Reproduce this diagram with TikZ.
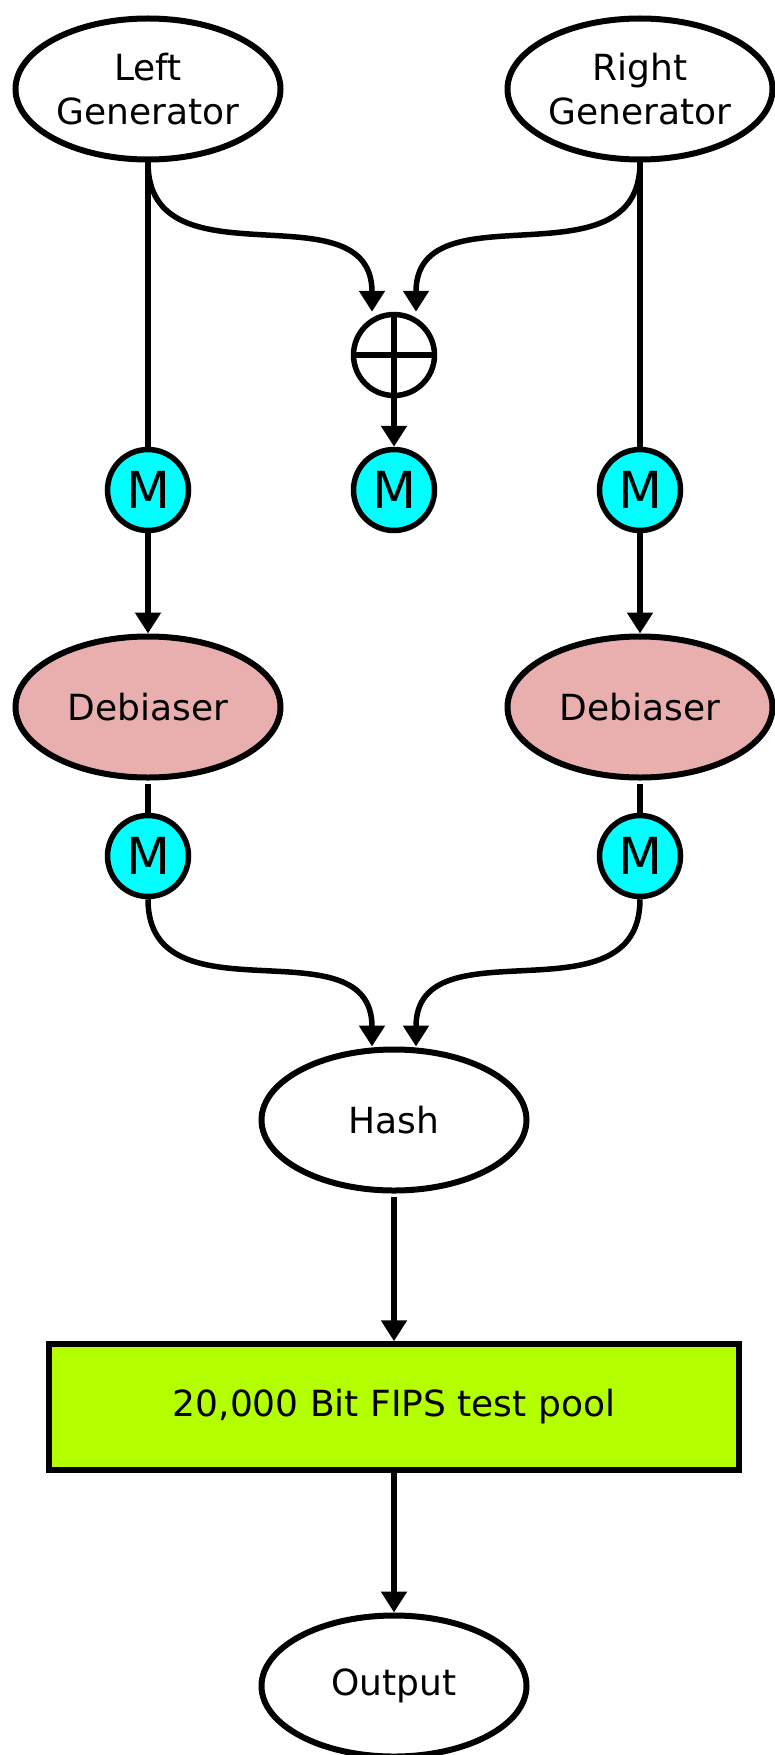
\documentclass[tikz,border=0pt]{standalone}
\usepackage{fontspec}
\setmainfont{DejaVu Sans}
\usepackage{tikz}
\usetikzlibrary{arrows.meta,positioning,shapes.geometric}
\definecolor{mixcyan}{RGB}{0,255,255}
\definecolor{debpink}{RGB}{233,175,175}
\definecolor{poolgreen}{RGB}{179,255,0}

\begin{document}
\begin{tikzpicture}[
    on grid,
    every node/.style={align=center, font=\fontsize{36}{44}\selectfont},
    genbox/.style={ellipse, draw=black, fill=white, minimum width=265pt, minimum height=141pt, line width=6pt, inner sep=0pt},
    debbox/.style={genbox, fill=debpink},
    mixbox/.style={circle, draw=black, fill=mixcyan, minimum size=81pt, line width=5.5pt, inner sep=0pt, font=\fontsize{51}{60}\selectfont},
    xorbox/.style={circle, draw=black, fill=white, minimum size=81pt, line width=5.5pt, inner sep=0pt},
    poolbox/.style={rectangle, draw=black, fill=poolgreen, minimum width=690pt, minimum height=126pt, line width=5.5pt},
    link/.style={line width=5.5pt, draw=black},
    arr/.style={link, -{Triangle[length=21pt,width=25pt]}}
]
\useasboundingbox (0,0) rectangle (775pt,-1755pt);

% Generators and XOR
\node[genbox] (leftgen) at (148pt,-89pt) {Left\\Generator};
\node[genbox, right=492pt of leftgen] (rightgen) {Right\\Generator};
\node[mixbox, below=401pt of leftgen] (leftmix) {M};
\node[mixbox, right=246pt of leftmix] (midmix) {M};
\node[xorbox, above=135pt of midmix] (xor) {};
\node[mixbox, below=401pt of rightgen] (rightmix) {M};

% Debiasers
\node[debbox, below=217pt of leftmix] (leftdeb) {Debiaser};
\node[debbox, below=217pt of rightmix] (rightdeb) {Debiaser};
\node[mixbox, below=149pt of leftdeb] (leftout) {M};
\node[mixbox, below=149pt of rightdeb] (rightout) {M};

% Hash, pool and output
\node[genbox, below=630pt of midmix] (hash) {Hash};
\node[poolbox, below=287pt of hash] (pool) {20,000 Bit FIPS test pool};
\node[genbox, below=279pt of pool] (output) {Output};

% Connections
\draw[link] (xor.north) -- (xor.south);
\draw[link] (xor.west) -- (xor.east);
\draw[link] (leftgen) -- (leftmix);
\draw[link] (rightgen) -- (rightmix);
\draw[arr] (leftgen.south) to[out=-90, in=90, looseness=1.2] ([xshift=-22pt]xor.north);
\draw[arr] (rightgen.south) to[out=-90, in=90, looseness=1.2] ([xshift=22pt]xor.north);
\draw[arr] (xor) -- (midmix);
\draw[arr] (leftmix) -- (leftdeb);
\draw[arr] (rightmix) -- (rightdeb);
\draw[link, shorten <=3pt] (leftdeb) -- (leftout);
\draw[link, shorten <=3pt] (rightdeb) -- (rightout);
\draw[arr] (leftout.south) to[out=-90, in=90, looseness=1.2] ([xshift=-22pt]hash.north);
\draw[arr] (rightout.south) to[out=-90, in=90, looseness=1.2] ([xshift=22pt]hash.north);
\draw[arr, shorten <=3pt] (hash) -- (pool);
\draw[arr] (pool) -- (output);

\end{tikzpicture}
\end{document}
